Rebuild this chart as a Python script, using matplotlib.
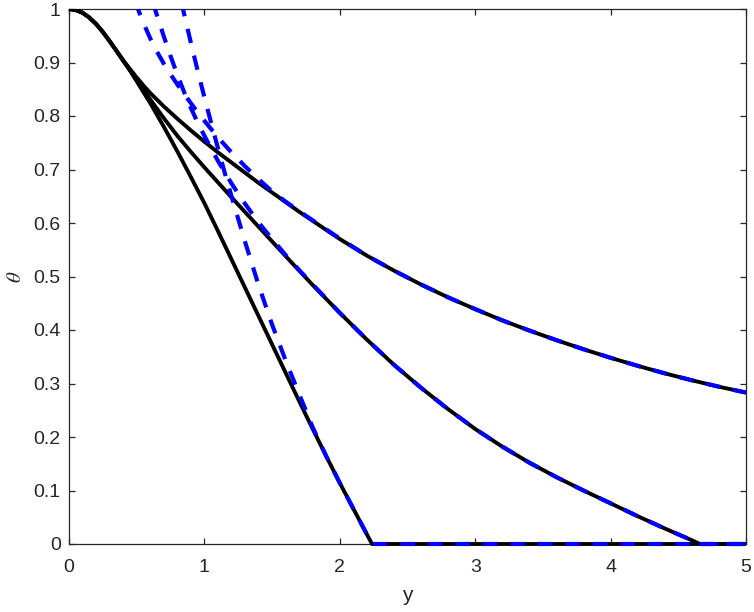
import matplotlib
matplotlib.use("Agg")
import matplotlib.pyplot as plt
from matplotlib.patches import Rectangle

# Exact (solid black) curves
A_x = [0, 0.05, 0.1, 0.15, 0.2, 0.25, 0.3, 0.35, 0.4, 0.45, 0.5, 0.55, 0.6, 0.7, 0.8, 0.9, 1.0, 1.1, 1.2, 1.3, 1.4,
       1.5, 1.6, 1.7, 1.8, 1.9, 2.0, 2.2, 2.4, 2.6, 2.8, 3.0, 3.2, 3.4, 3.6, 3.8, 4.0, 4.2, 4.4, 4.6, 4.8, 5.0]
A_y = [1.0, 0.998, 0.993, 0.984, 0.972, 0.957, 0.940, 0.922, 0.904, 0.888, 0.872, 0.857, 0.843, 0.818, 0.795, 0.773,
       0.752, 0.732, 0.713, 0.694, 0.675, 0.657, 0.639, 0.621, 0.604, 0.587, 0.570, 0.539, 0.511, 0.485, 0.461, 0.439,
       0.418, 0.399, 0.381, 0.364, 0.348, 0.333, 0.319, 0.306, 0.294, 0.283]

B_x = [0, 0.05, 0.1, 0.15, 0.2, 0.25, 0.3, 0.35, 0.4, 0.45, 0.5, 0.6, 0.7, 0.8, 0.9, 1.0, 1.2, 1.4, 1.6, 1.8, 2.0,
       2.2, 2.4, 2.6, 2.8, 3.0, 3.2, 3.4, 3.6, 3.8, 4.0, 4.2, 4.4, 4.6, 4.66, 5.0]
B_y = [1.0, 0.998, 0.993, 0.984, 0.972, 0.957, 0.940, 0.922, 0.904, 0.886, 0.868, 0.831, 0.796, 0.763, 0.733, 0.704,
       0.648, 0.593, 0.538, 0.484, 0.432, 0.382, 0.335, 0.292, 0.252, 0.215, 0.182, 0.152, 0.125, 0.100, 0.076, 0.052,
       0.029, 0.007, 0.0, 0.0]

C_x = [0, 0.05, 0.1, 0.15, 0.2, 0.25, 0.3, 0.35, 0.4, 0.45, 0.5, 0.6, 0.7, 0.8, 0.9, 1.0, 1.1, 1.2, 1.3, 1.4, 1.5,
       1.6, 1.7, 1.8, 1.9, 2.0, 2.1, 2.2, 2.238, 5.0]
C_y = [1.0, 0.998, 0.993, 0.984, 0.972, 0.957, 0.940, 0.922, 0.903, 0.885, 0.865, 0.824, 0.780, 0.734, 0.686, 0.637,
       0.585, 0.532, 0.479, 0.426, 0.373, 0.320, 0.267, 0.215, 0.164, 0.114, 0.066, 0.018, 0.0, 0.0]

# Approximate (dashed blue) curves
DA_x = [0.49, 0.52, 0.55, 0.6, 0.65, 0.7, 0.75, 0.8, 0.85, 0.9, 0.95, 1.0, 1.1, 1.2, 1.3, 1.4, 1.5, 1.6, 1.7, 1.8,
        1.9, 2.0, 2.2, 2.4, 2.6, 2.8, 3.0, 3.2, 3.4, 3.6, 3.8, 4.0, 4.2, 4.4, 4.6, 4.8, 5.0]
DA_y = [1.014, 0.993, 0.974, 0.945, 0.920, 0.898, 0.878, 0.859, 0.841, 0.824, 0.807, 0.791, 0.760, 0.732, 0.706,
        0.682, 0.659, 0.640, 0.622, 0.605, 0.588, 0.571, 0.539, 0.511, 0.485, 0.461, 0.439, 0.418, 0.399, 0.381,
        0.364, 0.348, 0.333, 0.319, 0.306, 0.294, 0.283]

DB_x = [0.62, 0.66, 0.7, 0.75, 0.8, 0.85, 0.9, 0.95, 1.0, 1.1, 1.2, 1.3, 1.4, 1.5, 1.6, 1.7, 1.8, 2.0, 2.2, 2.4,
        2.6, 2.8, 3.0, 3.2, 3.4, 3.6, 3.8, 4.0, 4.2, 4.4, 4.6, 4.66, 5.0]
DB_y = [1.012, 0.980, 0.949, 0.912, 0.877, 0.845, 0.815, 0.788, 0.763, 0.716, 0.674, 0.636, 0.601, 0.570, 0.540,
        0.512, 0.485, 0.432, 0.382, 0.335, 0.292, 0.252, 0.215, 0.182, 0.152, 0.125, 0.100, 0.076, 0.052, 0.029,
        0.007, 0.0, 0.0]

DC_x = [0.83, 0.86, 0.9, 0.95, 1.0, 1.05, 1.1, 1.15, 1.2, 1.3, 1.4, 1.5, 1.6, 1.7, 1.8, 1.9, 2.0, 2.1, 2.2, 2.238, 5.0]
DC_y = [1.013, 0.980, 0.937, 0.885, 0.835, 0.787, 0.740, 0.694, 0.650, 0.565, 0.484, 0.410, 0.343, 0.280, 0.218,
        0.164, 0.114, 0.066, 0.018, 0.0, 0.0]

x_ticks = [0, 1, 2, 3, 4, 5]
y_ticks = [0, 0.1, 0.2, 0.3, 0.4, 0.5, 0.6, 0.7, 0.8, 0.9, 1]
x_ticklabels = ["0", "1", "2", "3", "4", "5"]
y_ticklabels = ["0", "0.1", "0.2", "0.3", "0.4", "0.5", "0.6", "0.7", "0.8", "0.9", "1"]

plt.rcParams['font.family'] = ['Liberation Sans', 'DejaVu Sans']
plt.rcParams['mathtext.fontset'] = 'stix'

fig = plt.figure(figsize=(7.54, 6.12), dpi=100)
ax = fig.add_axes([69/754, 68/612, (746-69)/754, (544-9)/612])

# clip region: axes box, extended slightly to the left, bottom and right so that
# lines lying on the axes edges keep their full width (as in the original)
clip_rect = Rectangle((-0.01, -0.01), 1.02, 1.01, transform=ax.transAxes, visible=False)
ax.add_patch(clip_rect)

lines = []
for xs, ys in [(A_x, A_y), (B_x, B_y), (C_x, C_y)]:
    lines += ax.plot(xs, ys, color='black', lw=2.8, solid_capstyle='butt', solid_joinstyle='round', zorder=2)
for xs, ys in [(DA_x, DA_y), (DB_x, DB_y), (DC_x, DC_y)]:
    lines += ax.plot(xs, ys, color='#0000ff', lw=3.0, dashes=(3.5, 3.1), dash_capstyle='butt',
                     dash_joinstyle='round', zorder=3)
for ln in lines:
    ln.set_clip_path(clip_rect)

ax.set_xlim(0, 5)
ax.set_ylim(0, 1)
ax.set_xticks(x_ticks)
ax.set_xticklabels(x_ticklabels)
ax.set_yticks(y_ticks)
ax.set_yticklabels(y_ticklabels)

tc = '#262626'
for s in ax.spines.values():
    s.set_color(tc)
    s.set_linewidth(0.9)
    s.set_zorder(1)
ax.tick_params(direction='in', length=4.5, width=0.9, color=tc, labelcolor=tc,
               labelsize=14, top=True, right=True)
ax.tick_params(axis='x', pad=11)
ax.tick_params(axis='y', pad=6)

ax.set_xlabel('y', fontsize=15, color=tc, labelpad=7)
ax.set_ylabel(r'$\theta$', fontsize=15, color=tc, labelpad=6)

fig.savefig('out.png', dpi=100)
